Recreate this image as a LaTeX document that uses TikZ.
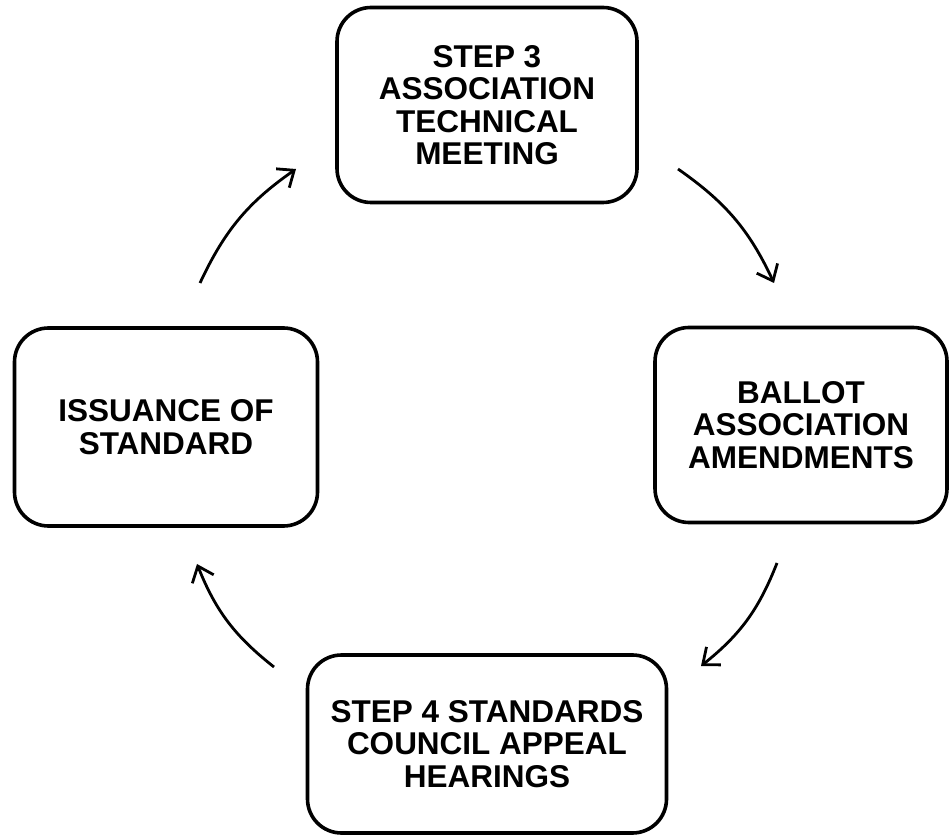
\documentclass[tikz,border=0pt]{standalone}
\usepackage{fontspec}
\setmainfont{Liberation Sans}
\usepackage{tikz}
\usetikzlibrary{arrows.meta}

\begin{document}
\begin{tikzpicture}[x=1pt,y=1pt,
  stagebox/.style={draw, line width=3.6pt, rounded corners=34pt, align=center,
    font=\fontsize{31.5}{32.5}\selectfont\bfseries, inner sep=0pt},
  cyclearrow/.style={line width=2.8pt, -{Straight Barb[length=14pt,width=23pt,line width=2.8pt]}, bend left=15}]
  \useasboundingbox (0,0) rectangle (949,838);
  % stages
  \node[stagebox, minimum width=300pt, minimum height=195pt] (meeting) at (487,733) {STEP 3\\ASSOCIATION\\TECHNICAL\\MEETING};
  \node[stagebox, minimum width=292pt, minimum height=195pt] (ballot) at (801,413) {BALLOT\\ASSOCIATION\\AMENDMENTS};
  \node[stagebox, minimum width=359pt, minimum height=178pt] (appeal) at (487,94) {STEP 4 STANDARDS\\COUNCIL APPEAL\\HEARINGS};
  \node[stagebox, minimum width=303pt, minimum height=198pt] (issue) at (166,411) {ISSUANCE OF\\STANDARD};
  % arrow ends
  \coordinate (a1s) at (200,555); \coordinate (a1e) at (296,669);
  \coordinate (a2s) at (678,669); \coordinate (a2e) at (774,555);
  \coordinate (a3s) at (777,275); \coordinate (a3e) at (701,172);
  \coordinate (a4s) at (274,171); \coordinate (a4e) at (197,274);
  \draw[cyclearrow] (a1s) to (a1e);
  \draw[cyclearrow] (a2s) to (a2e);
  \draw[cyclearrow] (a3s) to (a3e);
  \draw[cyclearrow] (a4s) to (a4e);
\end{tikzpicture}
\end{document}
